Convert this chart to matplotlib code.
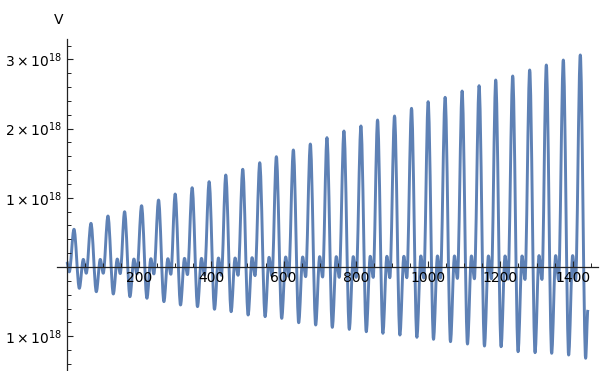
import matplotlib
matplotlib.use("Agg")
import matplotlib.pyplot as plt
from matplotlib.path import Path
from matplotlib.patches import PathPatch
from matplotlib.ticker import FixedLocator, MultipleLocator

# values in units of 1e18
peak_x = [20, 67, 114, 160, 207, 254, 300, 347, 394, 440, 487, 534, 580, 627, 674, 720,
          767, 814, 860, 907, 954, 1000, 1047, 1094, 1141, 1187, 1234, 1281, 1327, 1374, 1421]
peaks = [0.545, 0.631, 0.737, 0.799, 0.886, 0.968, 1.055, 1.146, 1.233, 1.329, 1.412,
         1.507, 1.594, 1.691, 1.777, 1.869, 1.965, 2.038, 2.124, 2.182, 2.293, 2.389,
         2.452, 2.543, 2.620, 2.702, 2.760, 2.847, 2.919, 2.991, 3.064]
troughs = [-0.308, -0.357, -0.390, -0.429, -0.452, -0.501, -0.549, -0.573, -0.611, -0.646,
           -0.694, -0.718, -0.742, -0.805, -0.838, -0.872, -0.901, -0.935, -0.958, -0.983,
           -1.016, -1.045, -1.079, -1.113, -1.142, -1.152, -1.224, -1.238, -1.247, -1.272,
           -1.319]
bumps = [0.11, 0.11, 0.115, 0.115, 0.12, 0.12, 0.125, 0.125, 0.13, 0.13, 0.135, 0.14,
         0.145, 0.145, 0.15, 0.15, 0.15, 0.155, 0.155, 0.155, 0.16, 0.16, 0.16, 0.16,
         0.16, 0.16, 0.16, 0.165, 0.165, 0.165]
shallows = [-0.09, -0.09, -0.095, -0.10, -0.10, -0.105, -0.11, -0.115, -0.12, -0.12,
            -0.125, -0.13, -0.135, -0.14, -0.145, -0.15, -0.15, -0.15, -0.155, -0.155,
            -0.16, -0.16, -0.165, -0.17, -0.17, -0.175, -0.18, -0.18, -0.185, -0.19]
# offsets after each peak of trough, bump, shallow trough
offsets = [14.8, 25.8, 34.0]
start_pts = [(0, 0.077), (7, -0.07)]
end_pt = (1442, -0.62)

ytick_vals = [-1, 1, 2, 3]
ytick_labels = [r'$1\times10^{18}$', r'$1\times10^{18}$', r'$2\times10^{18}$', r'$3\times10^{18}$']
xtick_vals = [200, 400, 600, 800, 1000, 1200, 1400]

# ordered extrema
pts = list(start_pts)
for i in range(len(peaks)):
    pts.append((peak_x[i], peaks[i]))
    pts.append((peak_x[i] + offsets[0], troughs[i]))
    if i < len(bumps):
        pts.append((peak_x[i] + offsets[1], bumps[i]))
        pts.append((peak_x[i] + offsets[2], shallows[i]))
pts.append(end_pt)

verts = [pts[0]]
codes = [Path.MOVETO]
for (x0, y0), (x1, y1) in zip(pts[:-1], pts[1:]):
    dx = (x1 - x0) / 3.0
    verts += [(x0 + dx, y0), (x1 - dx, y1), (x1, y1)]
    codes += [Path.CURVE4] * 3

fig = plt.figure(figsize=(6.08, 3.71), dpi=100)
ax = fig.add_axes([57 / 608, 0, (598 - 57) / 608, (371 - 39) / 371])
ax.add_patch(PathPatch(Path(verts, codes), fill=False, edgecolor='#5E81B5',
                       lw=2.1, joinstyle='round', capstyle='butt'))

ax.set_xlim(-27, 1470)
ax.set_ylim(-1.503, 3.295)

for s in ['top', 'right']:
    ax.spines[s].set_visible(False)
ax.spines['left'].set_position(('data', 0))
ax.spines['bottom'].set_position(('data', 0))
for s in ['left', 'bottom']:
    ax.spines[s].set_linewidth(0.9)
    ax.spines[s].set_color('#222222')

ax.xaxis.set_major_locator(FixedLocator(xtick_vals))
ax.xaxis.set_minor_locator(MultipleLocator(50))
ax.yaxis.set_major_locator(FixedLocator(ytick_vals))
ax.set_yticklabels(ytick_labels)
ax.yaxis.set_minor_locator(MultipleLocator(0.2))

ax.tick_params(axis='both', which='major', direction='in', length=4.5, width=0.8,
               color='#222222', labelsize=10)
ax.tick_params(axis='both', which='minor', direction='in', length=3, width=0.7,
               color='#222222')
ax.tick_params(axis='x', pad=3)
ax.tick_params(axis='y', pad=3)

fig.text(59 / 608, 1 - 20 / 371, 'V', ha='center', va='center', fontsize=10)

fig.savefig('out.png', dpi=100)
